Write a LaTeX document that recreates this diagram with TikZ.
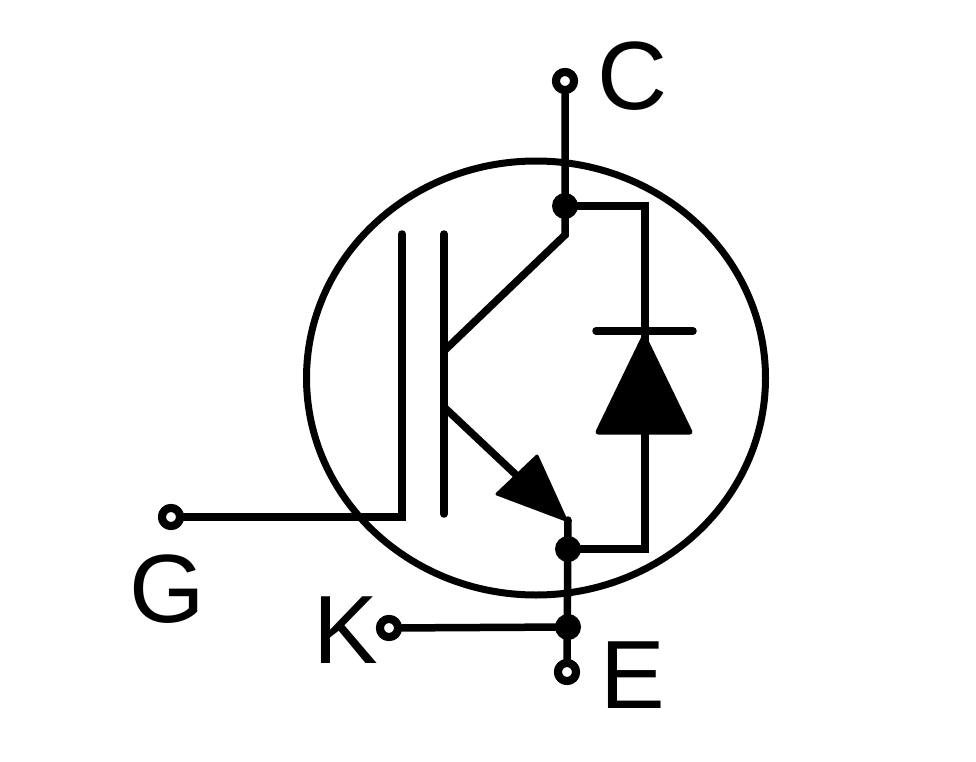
\documentclass[tikz,border=0pt]{standalone}
\usepackage{fontspec}
\setmainfont{Liberation Sans}
\tikzset{
 wire/.style={line width=7.5pt,line cap=round,line join=miter,black},
 term/.style={circle,draw=black,line width=8pt,fill=white,minimum size=18pt,inner sep=0pt},
 dotj/.style={circle,fill=black,minimum size=26pt,inner sep=0pt},
 lab/.style={font=\fontsize{97pt}{97pt}\selectfont,inner sep=0pt,anchor=center}
}
\begin{document}
\begin{tikzpicture}[x=1pt,y=-1pt]
\useasboundingbox (0,0) rectangle (976,762);
\fill[white] (0,0) rectangle (976,762);
\draw[line width=7pt] (536,378) ellipse [x radius=229.5,y radius=217];
\coordinate (cj) at (565,206);
\coordinate (ej) at (568,549);
\coordinate (kj) at (568,627);
\node[term] (tc) at (565,81) {};
\node[term] (tg) at (171,517) {};
\node[term] (tk) at (389,628) {};
\node[term] (te) at (567,672) {};
\draw[wire] (tc) -- (565,235) -- (445,350);
\draw[wire] (cj) -- (645,206) -- (645,549) -- (ej);
\draw[wire] (tg) -- (402,517) -- (402,234);
\draw[wire] (444,234) -- (444,514);
\draw[wire] (445,408) -- (530,488);
\draw[wire] (568,520) -- (te);
\draw[wire] (tk) -- (kj);
\draw[wire] (596,331) -- (693,331);
\fill[black,draw=black,line width=5pt,line join=round] (644,337) -- (690,432) -- (598,432) -- cycle;
\fill[black,draw=black,line width=3pt,line join=round] (566,520) -- (497,494) -- (537,456) -- cycle;
\node[dotj] (d1) at (cj) {};
\node[dotj] (d2) at (ej) {};
\node[dotj] (d3) at (kj) {};
\node[term] at (tc) {};
\node[term] at (tg) {};
\node[term] at (tk) {};
\node[term] at (te) {};
\node[lab] (lc) at (633,76) {C};
\node[lab] (lg) at (167,589) {G};
\node[lab] (lk) at (346,630) {K};
\node[lab] (le) at (633,675) {E};
\end{tikzpicture}
\end{document}
